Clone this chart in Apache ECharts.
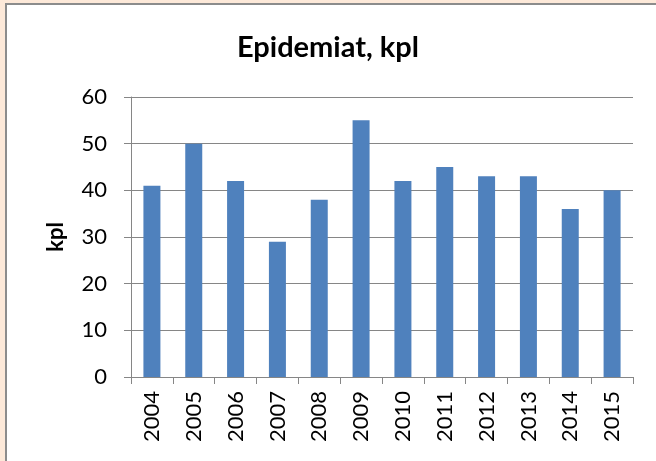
<!DOCTYPE html>
<html>
<head>
<meta charset="utf-8">
<script src="https://cdn.jsdelivr.net/npm/echarts@6/dist/echarts.min.js"></script>
<style>
  html, body { margin: 0; padding: 0; background: #fde9d9; }
  #chart { width: 656px; height: 461px; }
</style>
</head>
<body>
<div id="chart"></div>
<script>
const years = ['2004', '2005', '2006', '2007', '2008', '2009', '2010', '2011', '2012', '2013', '2014', '2015']
const cases = [41, 50, 42, 29, 38, 55, 42, 45, 43, 43, 36, 40]

const chart = echarts.init(document.getElementById('chart'))
const font = 'Lato, "Open Sans", sans-serif'

const option = {
  backgroundColor: '#fde9d9',
  animation: false,
  graphic: [{
    type: 'rect',
    z: -10,
    shape: { x: 6, y: 4, width: 700, height: 500 },
    style: { fill: '#ffffff', stroke: '#8c8c8c', lineWidth: 2 }
  }],
  title: {
    text: 'Epidemiat, kpl',
    left: 'center',
    top: 28,
    textStyle: { fontFamily: font, fontSize: 29, fontWeight: 'bold', color: '#000' }
  },
  grid: { left: 131, right: 23, top: 97, bottom: 84 },
  xAxis: {
    type: 'category',
    data: years,
    axisLine: { lineStyle: { color: '#868686', width: 1 } },
    axisTick: { show: true, length: 7, alignWithLabel: false, lineStyle: { color: '#868686' } },
    axisLabel: { rotate: 90, color: '#000', fontFamily: font, fontSize: 22, margin: 14, interval: 0 }
  },
  yAxis: {
    type: 'value',
    min: 0,
    max: 60,
    interval: 10,
    name: 'kpl',
    nameLocation: 'middle',
    nameGap: 64,
    nameTextStyle: { fontFamily: font, fontSize: 22, fontWeight: 'bold', color: '#000' },
    axisLine: { show: true, lineStyle: { color: '#868686', width: 1 } },
    axisTick: { show: true, length: 7, lineStyle: { color: '#868686' } },
    axisLabel: { color: '#000', fontFamily: font, fontSize: 22, margin: 24 },
    splitLine: { lineStyle: { color: '#868686', width: 1 } }
  },
  series: [{
    type: 'bar',
    data: cases,
    barWidth: 17,
    itemStyle: { color: '#4f81bd' }
  }]
}

chart.setOption(option)
</script>
</body>
</html>
